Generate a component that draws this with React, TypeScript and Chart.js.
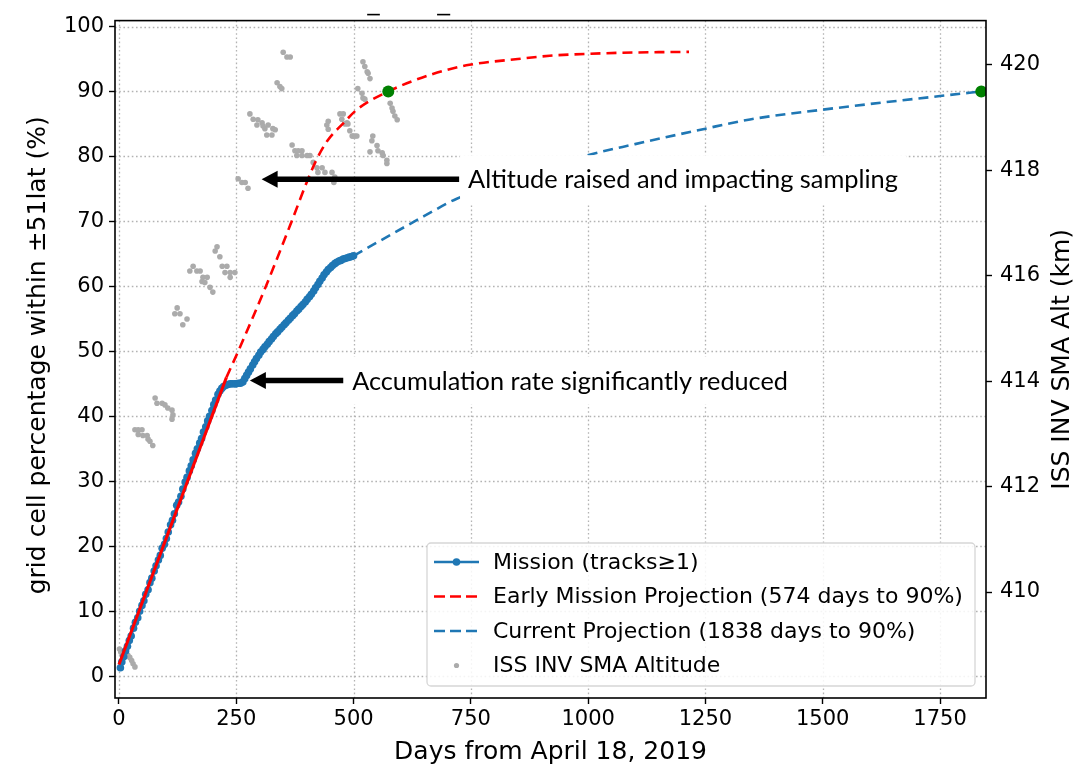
import React, { useEffect, useRef } from "react";
import { Chart, registerables } from "chart.js";

Chart.register(...registerables);

// Axis ticks
const dayTicks = [0, 250, 500, 750, 1000, 1250, 1500, 1750];
const pctTicks = [0, 10, 20, 30, 40, 50, 60, 70, 80, 90, 100];
const altTicks = [410, 412, 414, 416, 418, 420];

// Mission coverage (tracks >= 1)
const missionDays = [
  3, 6, 10, 14, 18, 22, 26, 31, 35, 40, 44, 49, 53, 57, 62, 66, 70, 75, 79, 84,
  88, 92, 97, 101, 105, 110, 114, 118, 123, 127, 132, 136, 141, 145, 150, 154,
  158, 163, 167, 172, 176, 180, 185, 189, 193, 198, 202, 206, 211, 215, 219,
  223, 228, 232, 237, 241, 246, 250, 255, 259, 264, 268, 272, 276, 280, 285,
  289, 293, 298, 302, 307, 311, 316, 320, 325, 329, 334, 338, 343, 347, 352,
  356, 361, 365, 370, 374, 379, 383, 388, 392, 397, 401, 406, 410, 415, 419,
  424, 428, 433, 437, 442, 446, 451, 455, 460, 464, 469, 473, 478, 482, 487,
  491, 496, 500,
];
const missionPct = [
  1.3, 2.2, 3.0, 3.9, 4.6, 5.5, 6.2, 7.4, 8.3, 9.0, 10.0, 10.9, 11.6, 12.6,
  13.3, 14.4, 15.1, 16.2, 17.0, 17.9, 18.6, 19.7, 20.3, 21.2, 22.2, 23.3, 24.0,
  25.0, 26.3, 26.8, 27.7, 28.8, 29.9, 30.6, 31.6, 32.4, 33.3, 34.3, 35.0, 35.9,
  36.6, 37.6, 38.4, 39.3, 40.0, 40.9, 41.8, 42.5, 43.4, 43.9, 44.3, 44.6, 44.8,
  44.9, 45.0, 45.0, 45.0, 45.0, 45.1, 45.1, 45.3, 45.8, 46.3, 46.8, 47.3, 47.9,
  48.4, 48.9, 49.4, 49.9, 50.3, 50.7, 51.1, 51.5, 51.9, 52.3, 52.7, 53.0, 53.4,
  53.7, 54.1, 54.4, 54.8, 55.1, 55.5, 55.8, 56.2, 56.5, 56.9, 57.2, 57.6, 58.0,
  58.4, 58.8, 59.3, 59.8, 60.3, 60.8, 61.3, 61.8, 62.2, 62.6, 62.9, 63.2, 63.5,
  63.7, 63.9, 64.0, 64.2, 64.3, 64.4, 64.5, 64.6, 64.7,
];

// Early linear fit
const earlyFitDays = [0, 229];
const earlyFitPct = [1.8, 46.0];

// Early mission projection
const earlyProjDays = [229, 254, 313, 368, 400, 421, 445, 478, 507, 574, 669, 747, 850, 918, 1000, 1100, 1215];
const earlyProjPct = [46.0, 50.0, 60.0, 70.0, 76.0, 79.5, 82.5, 85.1, 87.2, 90.0, 92.7, 94.1, 95.0, 95.5, 95.8, 96.0, 96.1];

// Current projection
const currentProjDays = [500, 578, 650, 720, 990, 1100, 1245, 1345, 1500, 1750, 1838];
const currentProjPct = [64.7, 67.9, 70.8, 73.5, 80.0, 81.9, 84.2, 85.7, 87.2, 89.3, 90.0];

// 90% milestones
const milestoneDays = [574, 1838];
const milestonePct = [90, 90];

// ISS INV SMA altitude (km)
const altDays = [
  1, 4, 19, 23, 27, 30, 34,
  34, 41, 49, 41, 51, 60, 62, 66, 72,
  77, 81, 92, 98, 104, 113, 115, 113,
  124, 119, 130, 145, 136,
  158, 151, 166, 173, 179, 188, 177, 183, 194, 200,
  209, 205, 215,
  220, 230, 226, 237, 247, 237,
  254, 262, 269, 275,
  279, 286, 296, 305, 294, 307, 311, 318, 328, 315, 326, 333,
  337, 343, 347,
  350, 358, 365,
  369, 375, 382, 390, 379, 390, 401, 407,
  414, 422, 433, 424, 439, 454, 460, 458,
  446, 443, 446,
  471, 478, 475, 482, 486, 488, 492, 497, 499, 503, 507,
  509, 518, 520, 524,
  520, 524, 529, 531, 535,
  535, 539, 541, 550, 552, 561, 563, 571, 571,
  578, 582, 584, 588, 593,
];
const altKm = [
  408.92, 408.86, 408.8, 408.76, 408.7, 408.64, 408.58,
  413.08, 413.08, 413.08, 412.99, 412.97, 412.97, 412.9, 412.86, 412.78,
  413.68, 413.58, 413.58, 413.55, 413.49, 413.45, 413.36, 413.28,
  415.39, 415.28, 415.28, 415.18, 415.07,
  416.18, 416.09, 416.09, 416.09, 415.97, 415.97, 415.89, 415.87, 415.78, 415.69,
  416.55, 416.47, 416.36,
  416.18, 416.18, 416.06, 416.06, 416.06, 415.97,
  417.84, 417.77, 417.77, 417.66,
  419.07, 418.97, 418.96, 418.9, 418.86, 418.84, 418.79, 418.86, 418.79, 418.67, 418.67, 418.77,
  419.66, 419.59, 419.55,
  420.24, 420.15, 420.15,
  418.48, 418.37, 418.37, 418.37, 418.28, 418.28, 418.28, 418.28,
  418.15, 418.05, 418.05, 417.96, 417.96, 417.96, 417.87, 417.77,
  418.93, 418.86, 418.78,
  419.07, 419.07, 418.97, 418.88, 418.9, 418.88, 418.75, 418.65, 418.65, 418.65, 418.65,
  419.55, 419.46, 419.37, 419.35,
  420.06, 419.97, 419.87, 419.84, 419.74,
  418.35, 418.56, 418.65, 418.47, 418.37, 418.33, 418.28, 418.19, 418.13,
  419.27, 419.18, 419.12, 419.03, 418.96,
];

// Annotations: arrow tip/tail and text start in days, height in %
const noteAltitude = { text: "Altitude raised and impacting sampling", tip: 304, tail: 725, pct: 76.5, start: 744, width: 430 };
const noteRate = { text: "Accumulation rate significantly reduced", tip: 279, tail: 478, pct: 45.5, start: 497, width: 436 };

const legendLabels = [
  "Mission (tracks\u22651)",
  "Early Mission Projection (574 days to 90%)",
  "Current Projection (1838 days to 90%)",
  "ISS INV SMA Altitude",
];

const BLUE = "#1f77b4";
const RED = "#ff0000";
const GREEN = "#008000";
const GRAY = "#ababab";
const GRID = "#b3b3b3";
const TICK_FONT = { family: "'DejaVu Sans', sans-serif", size: 21 };

const pts = (xs: number[], ys: number[]) => xs.map((x, i) => ({ x, y: ys[i] }));

function drawArrow(ctx: CanvasRenderingContext2D, tipX: number, tailX: number, y: number) {
  const headLen = 16;
  const headHalf = 8.5;
  ctx.save();
  ctx.strokeStyle = "#000";
  ctx.fillStyle = "#000";
  ctx.lineWidth = 5.5;
  ctx.beginPath();
  ctx.moveTo(tailX, y);
  ctx.lineTo(tipX + headLen - 1, y);
  ctx.stroke();
  ctx.beginPath();
  ctx.moveTo(tipX, y);
  ctx.lineTo(tipX + headLen, y - headHalf);
  ctx.lineTo(tipX + headLen, y + headHalf);
  ctx.closePath();
  ctx.fill();
  ctx.restore();
}

function drawNote(chart: any, note: typeof noteAltitude, boxed: boolean) {
  const { ctx, scales } = chart;
  const x = scales.x;
  const y = scales.y;
  const py = y.getPixelForValue(note.pct);
  drawArrow(ctx, x.getPixelForValue(note.tip), x.getPixelForValue(note.tail), py);
  ctx.save();
  const base = 26;
  ctx.font = `${base}px Lato, 'Open Sans', sans-serif`;
  const w0 = ctx.measureText(note.text).width;
  const size = (base * note.width) / w0;
  ctx.font = `${size.toFixed(2)}px Lato, 'Open Sans', sans-serif`;
  const tx = x.getPixelForValue(note.start);
  if (boxed) {
    ctx.fillStyle = "#ffffff";
    ctx.fillRect(tx - 8, py - 24, note.width + 16, 48);
  }
  ctx.fillStyle = "#000";
  ctx.textBaseline = "middle";
  ctx.textAlign = "left";
  ctx.fillText(note.text, tx, py + 1);
  ctx.restore();
}

const decorPlugin = {
  id: "decor",
  beforeDatasetsDraw(chart: any) {
    const { ctx, chartArea: ca, scales } = chart;
    ctx.save();
    ctx.strokeStyle = GRID;
    ctx.lineWidth = 1.3;
    ctx.setLineDash([1.6, 2.6]);
    dayTicks.forEach((v) => {
      const px = Math.round(scales.x.getPixelForValue(v)) + 0.5;
      ctx.beginPath();
      ctx.moveTo(px, ca.top);
      ctx.lineTo(px, ca.bottom);
      ctx.stroke();
    });
    pctTicks.forEach((v) => {
      const py = Math.round(scales.y.getPixelForValue(v)) + 0.5;
      ctx.beginPath();
      ctx.moveTo(ca.left, py);
      ctx.lineTo(ca.right, py);
      ctx.stroke();
    });
    ctx.restore();
  },
  afterDatasetsDraw(chart: any) {
    const { ctx, chartArea: ca, scales } = chart;

    // plot frame
    ctx.save();
    ctx.strokeStyle = "#000";
    ctx.lineWidth = 1.6;
    ctx.strokeRect(ca.left, ca.top, ca.right - ca.left, ca.bottom - ca.top);
    ctx.restore();

    // short title rule marks above the frame
    ctx.save();
    ctx.strokeStyle = "#000";
    ctx.lineWidth = 1.6;
    [[529, 556], [678, 706]].forEach(([a, b]) => {
      ctx.beginPath();
      ctx.moveTo(scales.x.getPixelForValue(a), ca.top - 6);
      ctx.lineTo(scales.x.getPixelForValue(b), ca.top - 6);
      ctx.stroke();
    });
    ctx.restore();

    drawNote(chart, noteAltitude, true);
    drawNote(chart, noteRate, true);

    // legend
    const boxR = ca.right - 11;
    const boxB = ca.bottom - 12;
    const boxW = 548;
    const boxH = 143;
    const boxL = boxR - boxW;
    const boxT = boxB - boxH;
    ctx.save();
    ctx.beginPath();
    const r = 4;
    ctx.moveTo(boxL + r, boxT);
    ctx.arcTo(boxR, boxT, boxR, boxB, r);
    ctx.arcTo(boxR, boxB, boxL, boxB, r);
    ctx.arcTo(boxL, boxB, boxL, boxT, r);
    ctx.arcTo(boxL, boxT, boxR, boxT, r);
    ctx.closePath();
    ctx.fillStyle = "rgba(255,255,255,0.85)";
    ctx.fill();
    ctx.strokeStyle = "#d6d6d6";
    ctx.lineWidth = 1.3;
    ctx.stroke();

    const hx0 = boxL + 7;
    const hx1 = boxL + 52;
    const textX = boxL + 66;
    ctx.font = "22px 'DejaVu Sans', sans-serif";
    ctx.textBaseline = "middle";
    ctx.textAlign = "left";
    legendLabels.forEach((label, i) => {
      const ry = boxT + 19 + i * 34.5;
      if (i === 0) {
        ctx.setLineDash([]);
        ctx.strokeStyle = BLUE;
        ctx.lineWidth = 2.6;
        ctx.beginPath();
        ctx.moveTo(hx0, ry);
        ctx.lineTo(hx1, ry);
        ctx.stroke();
        ctx.fillStyle = BLUE;
        ctx.beginPath();
        ctx.arc((hx0 + hx1) / 2, ry, 3.8, 0, Math.PI * 2);
        ctx.fill();
      } else if (i === 1 || i === 2) {
        ctx.setLineDash([11, 5]);
        ctx.strokeStyle = i === 1 ? RED : BLUE;
        ctx.lineWidth = 2.6;
        ctx.beginPath();
        ctx.moveTo(hx0, ry);
        ctx.lineTo(hx1, ry);
        ctx.stroke();
        ctx.setLineDash([]);
      } else {
        ctx.fillStyle = GRAY;
        ctx.beginPath();
        ctx.arc((hx0 + hx1) / 2, ry, 2.6, 0, Math.PI * 2);
        ctx.fill();
      }
      ctx.fillStyle = "#000";
      ctx.fillText(label, textX, ry + 1);
    });
    ctx.restore();

    // axis titles
    ctx.save();
    ctx.fillStyle = "#000";
    ctx.font = "25px 'DejaVu Sans', sans-serif";
    ctx.textAlign = "center";
    ctx.textBaseline = "middle";
    const midY = (ca.top + ca.bottom) / 2;
    ctx.fillText("Days from April 18, 2019", (ca.left + ca.right) / 2, ca.bottom + 54);
    ctx.save();
    ctx.translate(ca.left - 77, midY - 4);
    ctx.rotate(-Math.PI / 2);
    ctx.fillText("grid cell percentage within \u00b151lat (%)", 0, 0);
    ctx.restore();
    ctx.save();
    ctx.translate(ca.right + 76, midY);
    ctx.rotate(-Math.PI / 2);
    ctx.fillText("ISS INV SMA Alt (km)", 0, 0);
    ctx.restore();
    ctx.restore();
  },
};

export default function App() {
  const canvasRef = useRef<HTMLCanvasElement | null>(null);

  useEffect(() => {
    document.body.style.margin = "0";
    const canvas = canvasRef.current;
    if (!canvas) return;

    const tickGrid = {
      drawOnChartArea: false,
      drawTicks: true,
      tickLength: 6,
      tickColor: "#000",
      tickWidth: 1.4,
    };

    const chart = new Chart(canvas, {
      type: "scatter",
      data: {
        datasets: [
          {
            label: "milestones",
            data: pts(milestoneDays, milestonePct),
            yAxisID: "y",
            showLine: false,
            pointRadius: 6,
            pointBackgroundColor: GREEN,
            pointBorderWidth: 0,
            order: 0,
          },
          {
            label: legendLabels[0],
            data: pts(missionDays, missionPct),
            yAxisID: "y",
            showLine: true,
            borderColor: BLUE,
            borderWidth: 2.5,
            pointRadius: 3.8,
            pointBackgroundColor: BLUE,
            pointBorderWidth: 0,
            order: 2,
          },
          {
            label: "early fit",
            data: pts(earlyFitDays, earlyFitPct),
            yAxisID: "y",
            showLine: true,
            borderColor: RED,
            borderWidth: 3,
            pointRadius: 0,
            order: 1,
          },
          {
            label: legendLabels[1],
            data: pts(earlyProjDays, earlyProjPct),
            yAxisID: "y",
            showLine: true,
            borderColor: RED,
            borderWidth: 2.6,
            borderDash: [10, 6],
            cubicInterpolationMode: "monotone",
            pointRadius: 0,
            order: 3,
          },
          {
            label: legendLabels[2],
            data: pts(currentProjDays, currentProjPct),
            yAxisID: "y",
            showLine: true,
            borderColor: BLUE,
            borderWidth: 2.6,
            borderDash: [10, 6],
            cubicInterpolationMode: "monotone",
            pointRadius: 0,
            order: 4,
          },
          {
            label: legendLabels[3],
            data: pts(altDays, altKm),
            yAxisID: "y1",
            showLine: false,
            pointRadius: 2.8,
            pointBackgroundColor: GRAY,
            pointBorderWidth: 0,
            order: 5,
          },
        ],
      },
      options: {
        responsive: false,
        animation: false,
        events: [],
        layout: { padding: { top: 13, left: 0, right: 0, bottom: 0 } },
        plugins: {
          legend: { display: false },
          tooltip: { enabled: false },
          title: { display: false },
        },
        scales: {
          x: {
            type: "linear",
            position: "bottom",
            min: -8.5,
            max: 1848,
            afterBuildTicks: (s: any) => {
              s.ticks = dayTicks.map((v) => ({ value: v }));
            },
            afterFit: (s: any) => {
              s.height = 70;
            },
            grid: tickGrid,
            border: { display: false },
            ticks: {
              font: TICK_FONT,
              color: "#000",
              padding: 3,
              maxRotation: 0,
              autoSkip: false,
              callback: (v: any) => String(v),
            },
          },
          y: {
            type: "linear",
            position: "left",
            min: -3.35,
            max: 100.91,
            afterBuildTicks: (s: any) => {
              s.ticks = pctTicks.map((v) => ({ value: v }));
            },
            afterFit: (s: any) => {
              s.width = 115;
            },
            grid: tickGrid,
            border: { display: false },
            ticks: {
              font: TICK_FONT,
              color: "#000",
              padding: 5,
              autoSkip: false,
              callback: (v: any) => String(v),
            },
          },
          y1: {
            type: "linear",
            position: "right",
            min: 407.99,
            max: 420.84,
            afterBuildTicks: (s: any) => {
              s.ticks = altTicks.map((v) => ({ value: v }));
            },
            afterFit: (s: any) => {
              s.width = 91;
            },
            grid: tickGrid,
            border: { display: false },
            ticks: {
              font: TICK_FONT,
              color: "#000",
              padding: 8,
              autoSkip: false,
              callback: (v: any) => String(v),
            },
          },
        },
      },
      plugins: [decorPlugin],
    } as any);

    return () => chart.destroy();
  }, []);

  return (
    <div style={{ width: 1077, height: 768, background: "#fff" }}>
      <canvas ref={canvasRef} width={1077} height={768} style={{ display: "block" }} />
    </div>
  );
}
